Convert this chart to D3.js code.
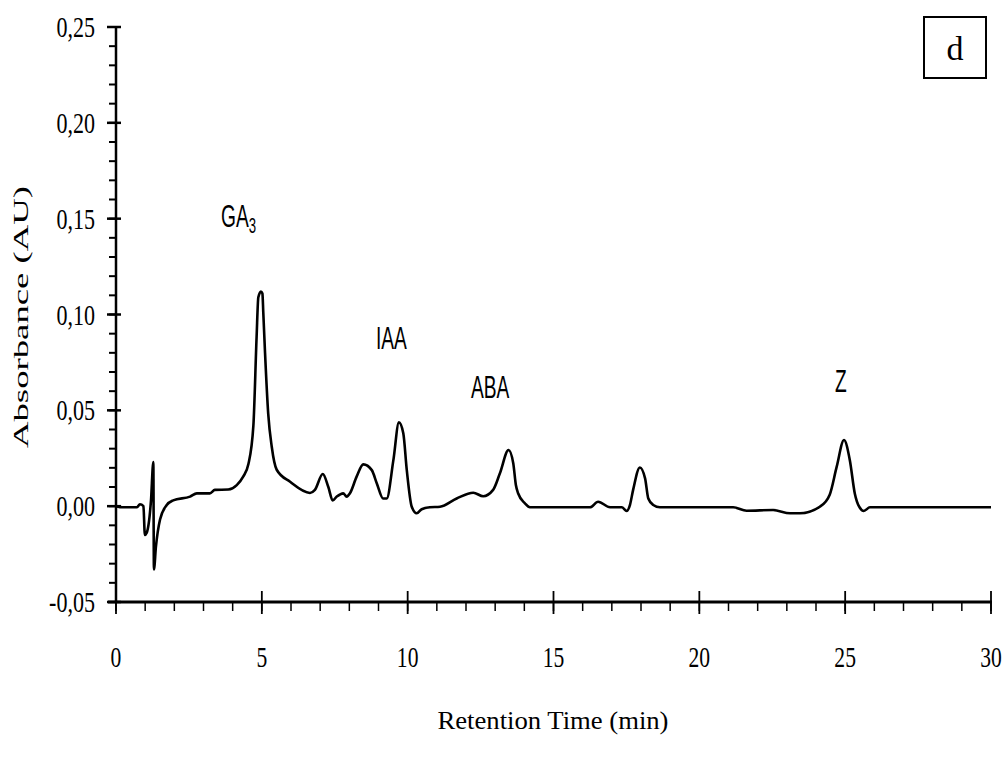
<!DOCTYPE html>
<html>
<head>
<meta charset="utf-8">
<script src="https://cdn.jsdelivr.net/npm/d3@7"></script>
<style>
  html, body { margin: 0; padding: 0; background: #fff; }
  svg { display: block; }
</style>
</head>
<body>
<svg id="chart" width="1004" height="769"></svg>
<script>
// ---- data ----
const times = [0, 0.24, 0.72, 0.82, 0.94, 0.99, 1.05, 1.20, 1.28, 1.30, 1.37, 1.51, 1.74, 1.96, 2.54, 2.77, 3.22, 3.39, 3.85, 4.14, 4.36, 4.54, 4.71, 4.82, 4.88, 4.97, 5.02, 5.05, 5.11, 5.22, 5.34, 5.51, 5.97, 6.65, 6.82, 7.09, 7.28, 7.43, 7.57, 7.79, 7.91, 8.02, 8.25, 8.48, 8.77, 8.94, 9.16, 9.28, 9.51, 9.70, 9.85, 9.97, 10.14, 10.31, 10.48, 10.76, 11.11, 11.68, 12.25, 12.59, 12.93, 13.16, 13.46, 13.62, 13.71, 13.79, 14.02, 14.19, 16.25, 16.53, 16.94, 17.34, 17.51, 17.62, 17.73, 17.96, 18.14, 18.25, 18.42, 18.65, 21.16, 21.62, 22.53, 23.11, 23.45, 24.13, 24.47, 24.71, 24.96, 25.16, 25.33, 25.48, 25.64, 25.85, 30];
const absorbance = [0.000, -0.0006, -0.0006, 0.001, 0.000, -0.015, -0.014, 0.003, 0.023, -0.033, -0.021, -0.007, 0.0006, 0.003, 0.005, 0.0067, 0.0067, 0.0085, 0.0087, 0.011, 0.0154, 0.022, 0.042, 0.088, 0.109, 0.112, 0.111, 0.101, 0.080, 0.048, 0.031, 0.019, 0.0127, 0.0069, 0.0085, 0.0168, 0.010, 0.003, 0.005, 0.0067, 0.005, 0.0067, 0.0154, 0.0218, 0.0188, 0.012, 0.004, 0.004, 0.024, 0.0437, 0.038, 0.0188, -0.0003, -0.0037, -0.0016, -0.0006, -0.0003, 0.004, 0.007, 0.0052, 0.0085, 0.017, 0.0293, 0.0224, 0.011, 0.0066, 0.0015, -0.0006, -0.0006, 0.0023, -0.0006, -0.0006, -0.0025, 0.0006, 0.0085, 0.0202, 0.0145, 0.004, 0.0006, -0.0006, -0.0006, -0.0024, -0.002, -0.0037, -0.0037, -0.0003, 0.006, 0.0206, 0.0345, 0.024, 0.0066, -0.0003, -0.0025, -0.0006, -0.0006];

const xTickValues = [0, 5, 10, 15, 20, 25, 30];
const xTickLabels = ["0", "5", "10", "15", "20", "25", "30"];
const yTickValues = [-0.05, 0, 0.05, 0.10, 0.15, 0.20, 0.25];
const yTickLabels = ["-0,05", "0,00", "0,05", "0,10", "0,15", "0,20", "0,25"];

const peakNames = ["GA", "IAA", "ABA", "Z"];
const peakSubs = ["3", "", "", ""];
const peakLabelTimes = [3.60, 8.91, 12.17, 24.65];
const peakLabelValues = [0.1457, 0.082, 0.0565, 0.0596];

const xTitle = "Retention Time (min)";
const yTitle = "Absorbance (AU)";
const panelLetter = "d";

// ---- drawing ----
const svg = d3.select("#chart");
const x = d3.scaleLinear().domain([0, 30]).range([116, 991]);
const y = d3.scaleLinear().domain([-0.05, 0.25]).range([602, 27]);

const serif = "Liberation Serif";
const sans = "Liberation Sans";

// Y axis
const gy = svg.append("g");
gy.append("line").attr("x1", 116).attr("x2", 116).attr("y1", y(0.25)).attr("y2", y(-0.05))
  .attr("stroke", "#000").attr("stroke-width", 2.5);
const yMinor = d3.range(-0.05, 0.2501, 0.01);
gy.selectAll("line.minor").data(yMinor).enter().append("line")
  .attr("x1", 109).attr("x2", 116)
  .attr("y1", d => y(d)).attr("y2", d => y(d))
  .attr("stroke", "#000").attr("stroke-width", 2);
gy.selectAll("line.major").data(yTickValues).enter().append("line")
  .attr("x1", 107).attr("x2", 121)
  .attr("y1", d => y(d)).attr("y2", d => y(d))
  .attr("stroke", "#000").attr("stroke-width", 2.5);
gy.selectAll("text").data(yTickValues).enter().append("text")
  .attr("transform", d => `translate(95,${y(d) + 10}) scale(0.76,1)`)
  .attr("text-anchor", "end")
  .style("font-family", serif).attr("font-size", 29)
  .text((d, i) => yTickLabels[i]);

// X axis
const gx = svg.append("g");
gx.append("line").attr("x1", 108).attr("x2", 992).attr("y1", 602).attr("y2", 602)
  .attr("stroke", "#000").attr("stroke-width", 3);
const xMinor = d3.range(0, 30.01, 1);
gx.selectAll("line.minor").data(xMinor).enter().append("line")
  .attr("x1", d => x(d)).attr("x2", d => x(d))
  .attr("y1", 602).attr("y2", 611)
  .attr("stroke", "#000").attr("stroke-width", 1.5);
gx.selectAll("line.major").data(xTickValues).enter().append("line")
  .attr("x1", d => x(d)).attr("x2", d => x(d))
  .attr("y1", 591).attr("y2", 614)
  .attr("stroke", "#000").attr("stroke-width", 1.8);
gx.selectAll("text").data(xTickValues).enter().append("text")
  .attr("transform", d => `translate(${x(d)},667) scale(0.72,1)`)
  .attr("text-anchor", "middle")
  .style("font-family", serif).attr("font-size", 30)
  .text((d, i) => xTickLabels[i]);

// Axis titles
svg.append("text")
  .attr("x", 553).attr("y", 729)
  .attr("text-anchor", "middle")
  .style("font-family", serif).attr("font-size", 26)
  .attr("textLength", 231).attr("lengthAdjust", "spacingAndGlyphs")
  .text(xTitle);
svg.append("text")
  .attr("transform", "translate(28,317) rotate(-90)")
  .attr("text-anchor", "middle")
  .style("font-family", serif).attr("font-size", 22)
  .attr("textLength", 262).attr("lengthAdjust", "spacingAndGlyphs")
  .text(yTitle);

// Trace
const pts = times.map((t, i) => [t, absorbance[i]]);
const line = d3.line().x(d => x(d[0])).y(d => y(d[1])).curve(d3.curveMonotoneX);
svg.append("path").datum(pts)
  .attr("d", line)
  .attr("fill", "none").attr("stroke", "#000").attr("stroke-width", 2.6)
  .attr("stroke-linejoin", "round");

// Peak labels
const gl = svg.append("g");
peakNames.forEach((name, i) => {
  const px = x(peakLabelTimes[i]);
  const py = y(peakLabelValues[i]);
  const t = gl.append("text")
    .attr("transform", `translate(${px},${py}) scale(0.6,1)`)
    .style("font-family", sans).attr("font-size", 32)
    .text(name);
  if (peakSubs[i]) {
    t.append("tspan").attr("font-size", 22).attr("dy", 6).text(peakSubs[i]);
  }
});

// Panel letter box
svg.append("rect").attr("x", 924).attr("y", 17).attr("width", 62).attr("height", 61)
  .attr("fill", "none").attr("stroke", "#000").attr("stroke-width", 2);
svg.append("text").attr("x", 955).attr("y", 60)
  .attr("text-anchor", "middle")
  .style("font-family", serif).attr("font-size", 34)
  .text(panelLetter);
</script>
</body>
</html>
